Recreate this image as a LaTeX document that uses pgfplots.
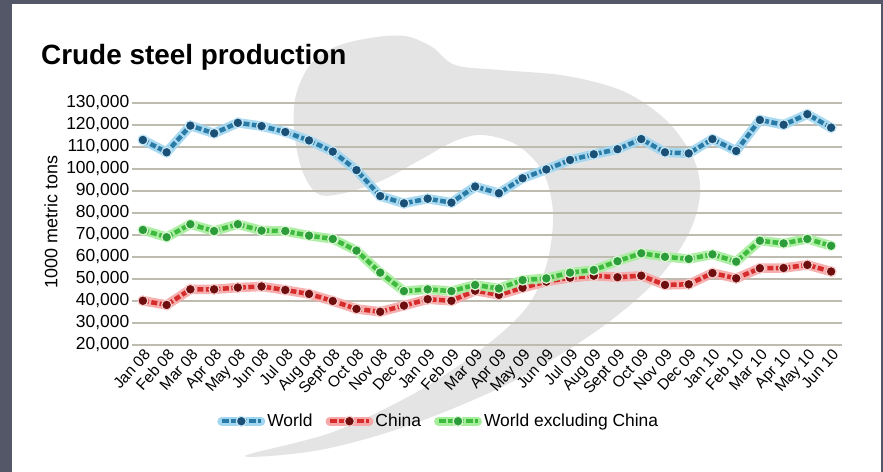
\documentclass[border=0pt]{standalone}
\usepackage{pgfplots}
\pgfplotsset{compat=1.18}
\usepackage{pgfplotstable}
\usepackage{fontspec}
\setmainfont{Liberation Sans}
\definecolor{bgdark}{RGB}{84,87,104}
\definecolor{wm}{RGB}{228,228,228}
\definecolor{gridc}{RGB}{190,187,176}
\definecolor{wline}{RGB}{42,122,166}
\definecolor{wglow}{RGB}{160,214,240}
\definecolor{wmark}{RGB}{27,80,118}
\definecolor{wedge}{RGB}{200,232,247}
\definecolor{cline}{RGB}{214,44,44}
\definecolor{cglow}{RGB}{246,168,168}
\definecolor{cmark}{RGB}{110,14,14}
\definecolor{cedge}{RGB}{248,205,205}
\definecolor{gline}{RGB}{62,186,62}
\definecolor{gglow}{RGB}{166,238,156}
\definecolor{gmark}{RGB}{44,156,58}
\definecolor{gedge}{RGB}{220,248,212}

\pgfplotstableread{
x world china excl
0 113200 40100 72300
1 107600 38200 69000
2 119700 45300 74900
3 116200 45300 71800
4 121000 46100 74900
5 119500 46600 72000
6 116800 45000 71800
7 113000 43200 69700
8 107900 40000 68200
9 99500 36400 62900
10 87700 35100 52900
11 84400 37900 44500
12 86500 40800 45300
13 84700 40100 44500
14 92000 44700 47300
15 89000 42800 45700
16 95800 46000 49500
17 99800 48800 50300
18 104100 50600 52900
19 106700 51500 54100
20 109000 50800 58100
21 113600 51500 61700
22 107600 47300 60100
23 107100 47600 59100
24 113600 52700 61200
25 108200 50300 57900
26 122300 54900 67400
27 120100 55000 66200
28 124900 56400 68200
29 118800 53400 65100
}\steeldata

\pgfplotsset{
  glow/.style={forget plot, no markers, line width=9.5bp, line join=round, line cap=round, color=#1, opacity=0.9},
  dline/.style={forget plot, no markers, line width=4.5bp, line join=round, color=#1, dash pattern=on 6bp off 2.5bp},
  dmarks/.style 2 args={forget plot, only marks, mark=*, mark size=5bp, mark options={fill=#1, draw=#2, line width=1.2bp}},
}

\begin{document}
\begin{tikzpicture}
\path[use as bounding box] (0,0) rectangle (883bp,472bp);
\fill[bgdark] (0,0) rectangle (883bp,472bp);
\fill[white] (12bp,0) rectangle (881bp,468bp);
\begin{scope}[shift={(0,472bp)}, x=1bp, y=-1bp]
\fill[wm] plot[smooth cycle, tension=0.55] coordinates {
 (245,456) (333,432) (417,392) (483,348) (527,307) (547,263) (553,213) (543,172)
 (517,145) (483,135) (455,141) (420,160) (383,180) (345,193) (318,194)
 (302,170) (294,130) (296,95) (310,65) (335,47) (370,38) (405,36) (432,47) (455,65)
 (500,70) (567,76) (625,92) (668,122) (694,160) (700,195) (688,235) (655,282)
 (595,332) (510,383) (410,425) (320,450)};
\end{scope}

\node[anchor=base west, inner sep=0, font=\bfseries\fontsize{28}{30}\selectfont] at (41bp,407.5bp) {Crude steel production};
\node[rotate=90, inner sep=0, font=\fontsize{18}{21}\selectfont] at (51bp,250bp) {1000 metric tons};

\begin{axis}[
  at={(132bp,127bp)}, anchor=south west,
  scale only axis, width=710bp, height=242bp,
  xmin=-0.46, xmax=29.46, ymin=20000, ymax=130000,
  axis line style={draw=none}, tick style={draw=none},
  ytick={20000,30000,40000,50000,60000,70000,80000,90000,100000,110000,120000,130000},
  yticklabels={{20,000},{30,000},{40,000},{50,000},{60,000},{70,000},{80,000},{90,000},{100,000},{110,000},{120,000},{130,000}},
  ymajorgrids, grid style={gridc, line width=1.5bp},
  scaled y ticks=false,
  yticklabel style={font=\fontsize{17.5}{20}\selectfont, inner sep=2.5bp},
  xtick={0,...,29},
  xticklabels={Jan 08,Feb 08,Mar 08,Apr 08,May 08,Jun 08,Jul 08,Aug 08,Sept 08,Oct 08,Nov 08,Dec 08,Jan 09,Feb 09,Mar 09,Apr 09,May 09,Jun 09,Jul 09,Aug 09,Sept 09,Oct 09,Nov 09,Dec 09,Jan 10,Feb 10,Mar 10,Apr 10,May 10,Jun 10},
  xticklabel style={rotate=48, anchor=north east, font=\fontsize{15.5}{18}\selectfont, inner sep=2bp},
  clip=false,
  legend style={draw=none, fill=none, at={(0.432,-0.315)}, anchor=center,
    font=\fontsize{17.5}{20}\selectfont,
    /tikz/every even column/.append style={column sep=11bp}},
  legend columns=3,
]
\addlegendimage{legend image code/.code={
  \draw[line width=9bp, wglow, line cap=round] (2bp,0bp) -- (41bp,0bp);
  \draw[line width=4.5bp, wline, dash pattern=on 7bp off 2bp] (2bp,0bp) -- (41bp,0bp);
  \fill[wmark, draw=wedge, line width=1.2bp] (21.5bp,0bp) circle (5bp);}}
\addlegendentry{World}
\addlegendimage{legend image code/.code={
  \draw[line width=9bp, cglow, line cap=round] (2bp,0bp) -- (41bp,0bp);
  \draw[line width=4.5bp, cline, dash pattern=on 7bp off 2bp] (2bp,0bp) -- (41bp,0bp);
  \fill[cmark, draw=cedge, line width=1.2bp] (21.5bp,0bp) circle (5bp);}}
\addlegendentry{China}
\addlegendimage{legend image code/.code={
  \draw[line width=9bp, gglow, line cap=round] (2bp,0bp) -- (41bp,0bp);
  \draw[line width=4.5bp, gline, dash pattern=on 7bp off 2bp] (2bp,0bp) -- (41bp,0bp);
  \fill[gmark, draw=gedge, line width=1.2bp] (21.5bp,0bp) circle (5bp);}}
\addlegendentry{World excluding China}

\addplot[glow=cglow] table[x=x, y=china] {\steeldata};
\addplot[dline=cline] table[x=x, y=china] {\steeldata};
\addplot[dmarks={cmark}{cedge}] table[x=x, y=china] {\steeldata};

\addplot[glow=gglow] table[x=x, y=excl] {\steeldata};
\addplot[dline=gline] table[x=x, y=excl] {\steeldata};
\addplot[dmarks={gmark}{gedge}] table[x=x, y=excl] {\steeldata};

\addplot[glow=wglow] table[x=x, y=world] {\steeldata};
\addplot[dline=wline] table[x=x, y=world] {\steeldata};
\addplot[dmarks={wmark}{wedge}] table[x=x, y=world] {\steeldata};
\end{axis}
\end{tikzpicture}
\end{document}
